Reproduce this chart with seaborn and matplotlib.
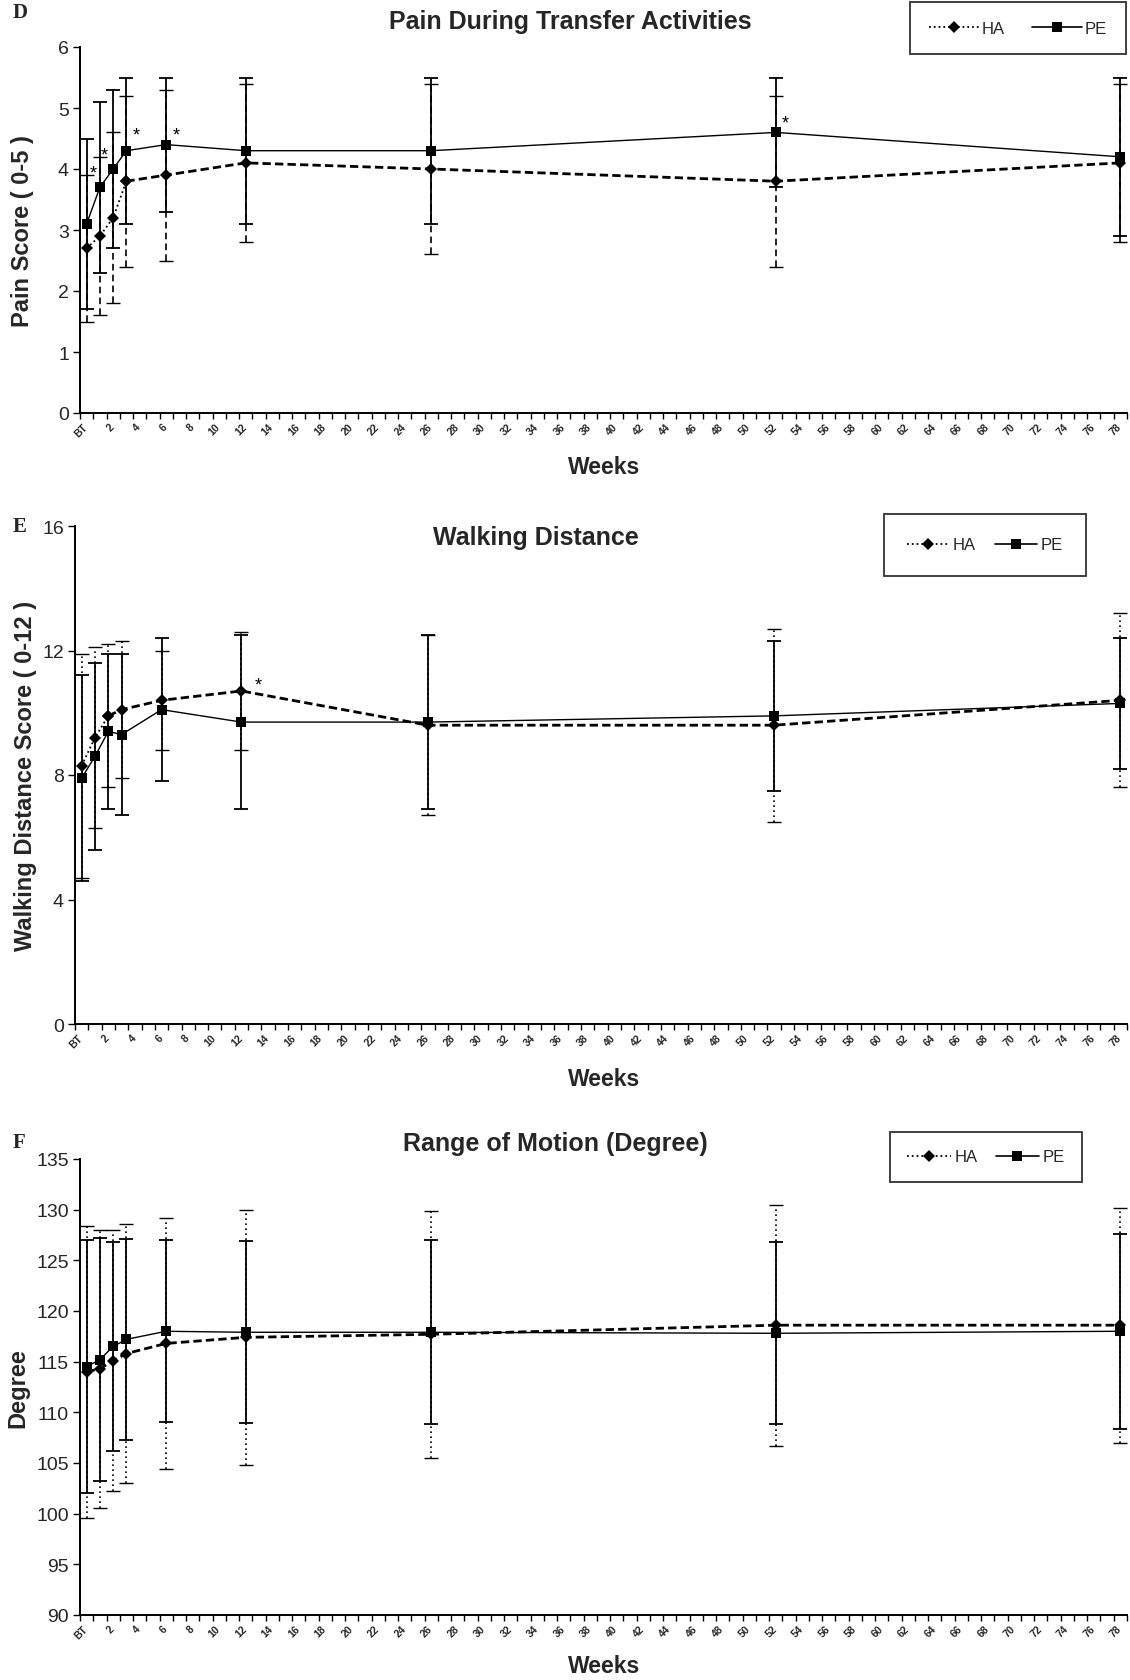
import numpy as np
import matplotlib
matplotlib.use("Agg")
import matplotlib.pyplot as plt
import seaborn as sns
from matplotlib.lines import Line2D

# ---------------- data ----------------
week_names = ["BT", "1", "2", "3", "6", "12", "26", "52", "78"]
week_pos = [0, 1, 2, 3, 6, 12, 26, 52, 78]          # category index on the week axis
n_categories = 79                                    # BT, 1 ... 78
axis_tick_labels = ["BT"] + [str(i) for i in range(2, 79, 2)]
axis_tick_cats = list(range(0, 79, 2))

pain_ha_mean = [2.7, 2.9, 3.2, 3.8, 3.9, 4.1, 4.0, 3.8, 4.1]
pain_ha_sd = [1.2, 1.3, 1.4, 1.4, 1.4, 1.3, 1.4, 1.4, 1.3]
pain_pe_mean = [3.1, 3.7, 4.0, 4.3, 4.4, 4.3, 4.3, 4.6, 4.2]
pain_pe_sd = [1.4, 1.4, 1.3, 1.2, 1.1, 1.2, 1.2, 0.9, 1.3]

walk_ha_mean = [8.3, 9.2, 9.9, 10.1, 10.4, 10.7, 9.6, 9.6, 10.4]
walk_ha_sd = [3.6, 2.9, 2.3, 2.2, 1.6, 1.9, 2.9, 3.1, 2.8]
walk_pe_mean = [7.9, 8.6, 9.4, 9.3, 10.1, 9.7, 9.7, 9.9, 10.3]
walk_pe_sd = [3.3, 3.0, 2.5, 2.6, 2.3, 2.8, 2.8, 2.4, 2.1]

rom_ha_mean = [114.0, 114.3, 115.1, 115.8, 116.8, 117.4, 117.7, 118.6, 118.6]
rom_ha_sd = [14.4, 13.7, 12.9, 12.8, 12.4, 12.6, 12.2, 11.9, 11.6]
rom_pe_mean = [114.5, 115.2, 116.5, 117.2, 118.0, 117.9, 117.9, 117.8, 118.0]
rom_pe_sd = [12.5, 12.0, 10.3, 9.9, 9.0, 9.0, 9.1, 9.0, 9.6]

series_names = ["HA", "PE"]

# ---------------- style ----------------
sns.set_theme(style="white")
plt.rcParams["font.family"] = ["Liberation Sans", "DejaVu Sans"]

W, H = 1130, 1681
fig = plt.figure(figsize=(W / 100, H / 100), dpi=100)


def px_rect(left, right, top, bottom):
    return [left / W, 1 - bottom / H, (right - left) / W, (bottom - top) / H]


panels = [
    dict(letter="D", letter_y=13, title="Pain During Transfer Activities", title_xy=(570, 22),
         ylabel="Pain Score ( 0-5 )", ylab_x=-0.044, ylim=(0, 6), yticks=list(range(0, 7)),
         rect=px_rect(80, 1127, 48, 414), weeks_y=467,
         legend_c=(1018, 29), legend_pad=1.1, leg_hl=3.0, leg_cs=1.6,
         ha_mean=pain_ha_mean, ha_sd=pain_ha_sd, pe_mean=pain_pe_mean, pe_sd=pain_pe_sd,
         ha_dotted_upto=3, ha_err_ls=(0, (4, 2.5)),
         stars=[(0, "PE", 5, 37), (1, "PE", 3, 23), (3, "PE", 7, 11), (4, "PE", 7, 7), (7, "PE", 7, 7)]),
    dict(letter="E", letter_y=527, title="Walking Distance", title_xy=(536, 538),
         ylabel="Walking Distance Score ( 0-12 )", ylab_x=-0.036, ylim=(0, 16), yticks=[0, 4, 8, 12, 16],
         rect=px_rect(75, 1127, 527, 1025), weeks_y=1080,
         legend_c=(985, 546), legend_pad=1.4, leg_hl=2.5, leg_cs=1.2,
         ha_mean=walk_ha_mean, ha_sd=walk_ha_sd, pe_mean=walk_pe_mean, pe_sd=walk_pe_sd,
         ha_dotted_upto=2, ha_err_ls=(0, (1, 2)),
         stars=[(5, "HA", 12, 4)]),
    dict(letter="F", letter_y=1143, title="Range of Motion (Degree)", title_xy=(555, 1144),
         ylabel="Degree", ylab_x=-0.048, ylim=(90, 135), yticks=list(range(90, 136, 5)),
         rect=px_rect(80, 1127, 1160, 1616), weeks_y=1667,
         legend_c=(986, 1158), legend_pad=1.05, leg_hl=2.6, leg_cs=1.1,
         ha_mean=rom_ha_mean, ha_sd=rom_ha_sd, pe_mean=rom_pe_mean, pe_sd=rom_pe_sd,
         ha_dotted_upto=0, ha_err_ls=(0, (1, 2)),
         stars=[]),
]

for p in panels:
    ax = fig.add_axes(p["rect"])
    x = week_pos

    # error bars
    ax.errorbar(x, p["pe_mean"], yerr=p["pe_sd"], fmt="none", ecolor="black",
                elinewidth=1.3, capsize=5, capthick=1.3, zorder=2)
    eb_ha = ax.errorbar(x, p["ha_mean"], yerr=p["ha_sd"], fmt="none", ecolor="black",
                        elinewidth=1.2, capsize=5, capthick=1.0, zorder=2)
    eb_ha[2][0].set_linestyle(p["ha_err_ls"])

    # HA line: early part dotted, remainder heavy dashed
    k = p["ha_dotted_upto"]
    if k > 0:
        sns.lineplot(x=x[:k + 1], y=p["ha_mean"][:k + 1], ax=ax, color="black",
                     linestyle=":", linewidth=1.3, marker="D", markersize=6,
                     markeredgewidth=0, estimator=None, sort=False, zorder=3)
    sns.lineplot(x=x[k:], y=p["ha_mean"][k:], ax=ax, color="black",
                 linestyle=(0, (3, 1.5)), linewidth=2.0, marker="D", markersize=6,
                 markeredgewidth=0, estimator=None, sort=False, zorder=3)
    # PE line
    sns.lineplot(x=x, y=p["pe_mean"], ax=ax, color="black", linestyle="-", linewidth=1.0,
                 marker="s", markersize=7.5, markeredgewidth=0, estimator=None,
                 sort=False, zorder=4)

    # significance stars
    for idx, ser, dx, dy in p["stars"]:
        yv = p["pe_mean"][idx] if ser == "PE" else p["ha_mean"][idx]
        ax.annotate("*", xy=(x[idx], yv), xytext=(dx, dy), textcoords="offset points",
                    ha="center", va="center", fontsize=13, color="black")

    # axes
    ax.set_xlim(-0.5, n_categories - 0.5)
    ax.set_ylim(*p["ylim"])
    ax.set_yticks(p["yticks"])
    ax.set_yticklabels([str(v) for v in p["yticks"]], fontsize=14)
    ax.set_xticks(np.arange(-0.5, n_categories + 0.5, 1.0), minor=True)
    ax.set_xticks([c - 0.3 for c in axis_tick_cats])
    ax.set_xticklabels(axis_tick_labels, rotation=45, ha="right", va="top",
                       rotation_mode="anchor", fontsize=7.5, fontweight="bold")
    ax.tick_params(axis="x", which="major", length=0, pad=6)
    ax.tick_params(axis="x", which="minor", length=4, width=1.0, direction="out",
                   color="black", bottom=True)
    ax.tick_params(axis="y", which="major", length=5, width=1.0, direction="out",
                   color="black", left=True, pad=3)
    for s in ["top", "right"]:
        ax.spines[s].set_visible(False)
    for s in ["left", "bottom"]:
        ax.spines[s].set_color("black")
        ax.spines[s].set_linewidth(1.4)
    ax.set_xlabel("")
    ax.set_ylabel(p["ylabel"], fontsize=17, fontweight="bold")
    ax.yaxis.set_label_coords(p["ylab_x"], 0.5)
    ax.grid(False)

    # titles, letters, x label
    fig.text(p["title_xy"][0] / W, 1 - p["title_xy"][1] / H, p["title"], ha="center",
             va="center", fontsize=18, fontweight="bold")
    fig.text(13 / W, 1 - p["letter_y"] / H, p["letter"], ha="left", va="center",
             fontsize=15, fontweight="bold", family=["Liberation Serif", "DejaVu Serif"])
    fig.text(604 / W, 1 - p["weeks_y"] / H, "Weeks", ha="center", va="center",
             fontsize=16.5, fontweight="bold")

    # legend
    handles = [
        Line2D([], [], color="black", linestyle=":", linewidth=1.3, marker="D", markersize=6,
               markeredgewidth=0),
        Line2D([], [], color="black", linestyle="-", linewidth=1.2, marker="s", markersize=6.5,
               markeredgewidth=0),
    ]
    leg = fig.legend(handles, series_names, loc="center",
                     bbox_to_anchor=(p["legend_c"][0] / W, 1 - p["legend_c"][1] / H),
                     ncol=2, frameon=True, fancybox=False, shadow=False, fontsize=12,
                     handlelength=p["leg_hl"], columnspacing=p["leg_cs"], handletextpad=0.2,
                     borderpad=p["legend_pad"], borderaxespad=0)
    leg.get_frame().set_edgecolor("black")
    leg.get_frame().set_linewidth(1.3)

fig.savefig("out.png", dpi=100, facecolor="white")
